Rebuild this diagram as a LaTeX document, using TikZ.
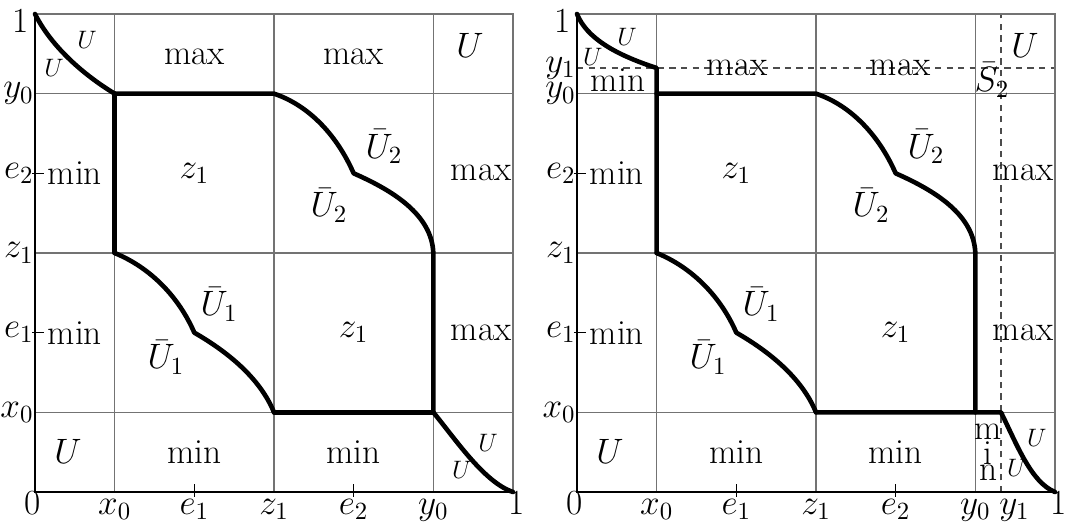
\documentclass[tikz,border=0pt]{standalone}
\usepackage{fix-cm}
\tikzset{
  big/.style={font=\fontsize{16.8}{19}\selectfont, inner sep=1pt},
  small/.style={font=\fontsize{12}{14}\selectfont, inner sep=0pt},
  gridline/.style={line width=0.5pt, draw=black!55},
  axisline/.style={line width=0.6pt, draw=black},
  bold/.style={line width=2.2pt, line join=round, line cap=round},
  axtick/.style={line width=0.5pt},
  dashline/.style={line width=0.5pt, draw=black!70, dash pattern=on 3pt off 2.5pt},
  ylab/.style={big, anchor=east, inner sep=0.5pt},
  xlab/.style={big, anchor=base, inner sep=0pt},
}
\newcommand\commonpanel[1]{%
  % grid
  \draw[gridline] (1/6,0) -- (1/6,1) (1/2,0) -- (1/2,1) (5/6,0) -- (5/6,1);
  \draw[gridline] (0,1/6) -- (1,1/6) (0,1/2) -- (1,1/2) (0,5/6) -- (1,5/6);
  \draw[gridline] (0,1) -- (1,1) -- (1,0);
  \draw[axisline] (0,1) -- (0,0) -- (1,0);
  % ticks
  \draw[axtick] (1/3,-0.01) -- (1/3,0.016) (2/3,-0.01) -- (2/3,0.016);
  \draw[axtick] (-0.006,1/3) -- (0.018,1/3) (-0.006,2/3) -- (0.018,2/3);
  % lower-left curve
  \draw[bold] (1/6,1/2) .. controls (0.24,0.47) and (0.30,0.41) .. (1/3,1/3)
              .. controls (0.40,0.295) and (0.47,0.24) .. (1/2,1/6);
  % upper-right curve with its straight parts
  \draw[bold] (1/6,5/6) -- (1/2,5/6) .. controls (0.57,0.81) and (0.63,0.75) .. (2/3,2/3)
              .. controls (0.75,0.63) and (0.83,0.58) .. (5/6,1/2) -- (5/6,1/6);
  % axis labels
  \node[ylab] (#1ly0) at (0,5/6) {$y_0$};
  \node[ylab] (#1le2) at (0,2/3) {$e_2$};
  \node[ylab] (#1lz1) at (0,1/2) {$z_1$};
  \node[ylab] (#1le1) at (0,1/3) {$e_1$};
  \node[ylab] (#1lx0) at (0,1/6) {$x_0$};
  \node[big, anchor=east, inner sep=3pt] (#1lone) at (0,0.985) {1};
  \node[xlab] (#1bzero) at (-0.004,-0.047) {0};
  \node[xlab] (#1bx0) at (1/6,-0.047) {$x_0$};
  \node[xlab] (#1be1) at (1/3,-0.047) {$e_1$};
  \node[xlab] (#1bz1) at (1/2,-0.047) {$z_1$};
  \node[big, anchor=base west, inner sep=0pt] (#1bone) at (0.99,-0.047) {1};
  % cell labels
  \node[big] (#1min2) at (1/12,2/3) {min};
  \node[big] (#1za) at (1/3,2/3) {$z_1$};
  \node[big, anchor=east, inner sep=0.5pt] (#1max2) at (1,2/3) {max};
  \node[big] (#1min3) at (1/12,1/3) {min};
  \node[big] (#1zb) at (2/3,1/3) {$z_1$};
  \node[big, anchor=east, inner sep=0.5pt] (#1max3) at (1,1/3) {max};
  \node[big] (#1ubl) at (0.069,0.084) {$U$};
  \node[big] (#1min4) at (1/3,1/12) {min};
  \node[big] (#1min5) at (2/3,1/12) {min};
  \node[big] (#1ua) at (0.385,0.393) {$\bar U_1$};
  \node[big] (#1ub) at (0.274,0.282) {$\bar U_1$};
  \node[big] (#1uc) at (0.73,0.722) {$\bar U_2$};
  \node[big] (#1ud) at (0.615,0.60) {$\bar U_2$};
}
\begin{document}
\begin{tikzpicture}[x=8cm,y=8cm]
\useasboundingbox (-0.0732,-0.0628) rectangle (2.1632,1.0293);
% ---------------- left panel
\begin{scope}
  \commonpanel{L}
  \draw[bold] (1/6,5/6) -- (1/6,1/2);
  \draw[bold] (5/6,1/6) -- (1/2,1/6);
  \draw[bold] (0,1) .. controls (0.03,0.94) and (0.09,0.88) .. (1/6,5/6);
  \draw[bold] (5/6,1/6) .. controls (0.88,0.11) and (0.94,0.02) .. (1,0);
  \node[xlab] (Lbe2) at (2/3,-0.047) {$e_2$};
  \node[xlab] (Lby0) at (5/6,-0.047) {$y_0$};
  \node[big] (Lmax1) at (1/3,0.91) {max};
  \node[big] (Lmax1b) at (2/3,0.91) {max};
  \node[big] (Lutr) at (0.91,0.935) {$U$};
  \node[small] (Lsu1) at (0.109,0.946) {$U$};
  \node[small] (Lsu2) at (0.04,0.887) {$U$};
  \node[small] (Lsu3) at (0.948,0.1025) {$U$};
  \node[small] (Lsu4) at (0.893,0.046) {$U$};
\end{scope}
% ---------------- right panel
\begin{scope}[shift={(1.1339,0)}]
  \draw[dashline] (0,0.887) -- (1,0.887);
  \draw[dashline] (0.887,0) -- (0.887,1);
  \commonpanel{R}
  \draw[bold] (0,1) .. controls (0.02,0.95) and (0.08,0.915) .. (1/6,0.887) -- (1/6,1/2);
  \draw[bold] (1/2,1/6) -- (0.887,1/6) .. controls (0.92,0.1) and (0.95,0.02) .. (1,0);
  \node[ylab] (Rly1) at (0,0.887) {$y_1$};
  \node[xlab] (Rbe2) at (2/3,-0.047) {$e_2$};
  \node[xlab] (Rby0) at (5/6,-0.047) {$y_0$};
  \node[xlab] (Rby1) at (0.915,-0.047) {$y_1$};
  \node[big] (Rmax1) at (0.335,0.887) {max};
  \node[big] (Rmax1b) at (0.676,0.887) {max};
  \node[big] (Rmin1) at (0.0858,0.862) {min};
  \node[big] (Rs2) at (0.868,0.862) {$\bar S_2$};
  \node[big] (Rutr) at (0.937,0.935) {$U$};
  \node[small] (Rsu1) at (0.1046,0.952) {$U$};
  \node[small] (Rsu2) at (0.033,0.910) {$U$};
  \node[small] (Rsu3) at (0.962,0.113) {$U$};
  \node[small] (Rsu4) at (0.92,0.05) {$U$};
  \node[big, inner sep=0pt] (Rm) at (0.86,0.1255) {m};
  \node[big, inner sep=0pt] (Ri) at (0.86,0.0816) {i};
  \node[big, inner sep=0pt] (Rn) at (0.86,0.0397) {n};
\end{scope}
\end{tikzpicture}
\end{document}
